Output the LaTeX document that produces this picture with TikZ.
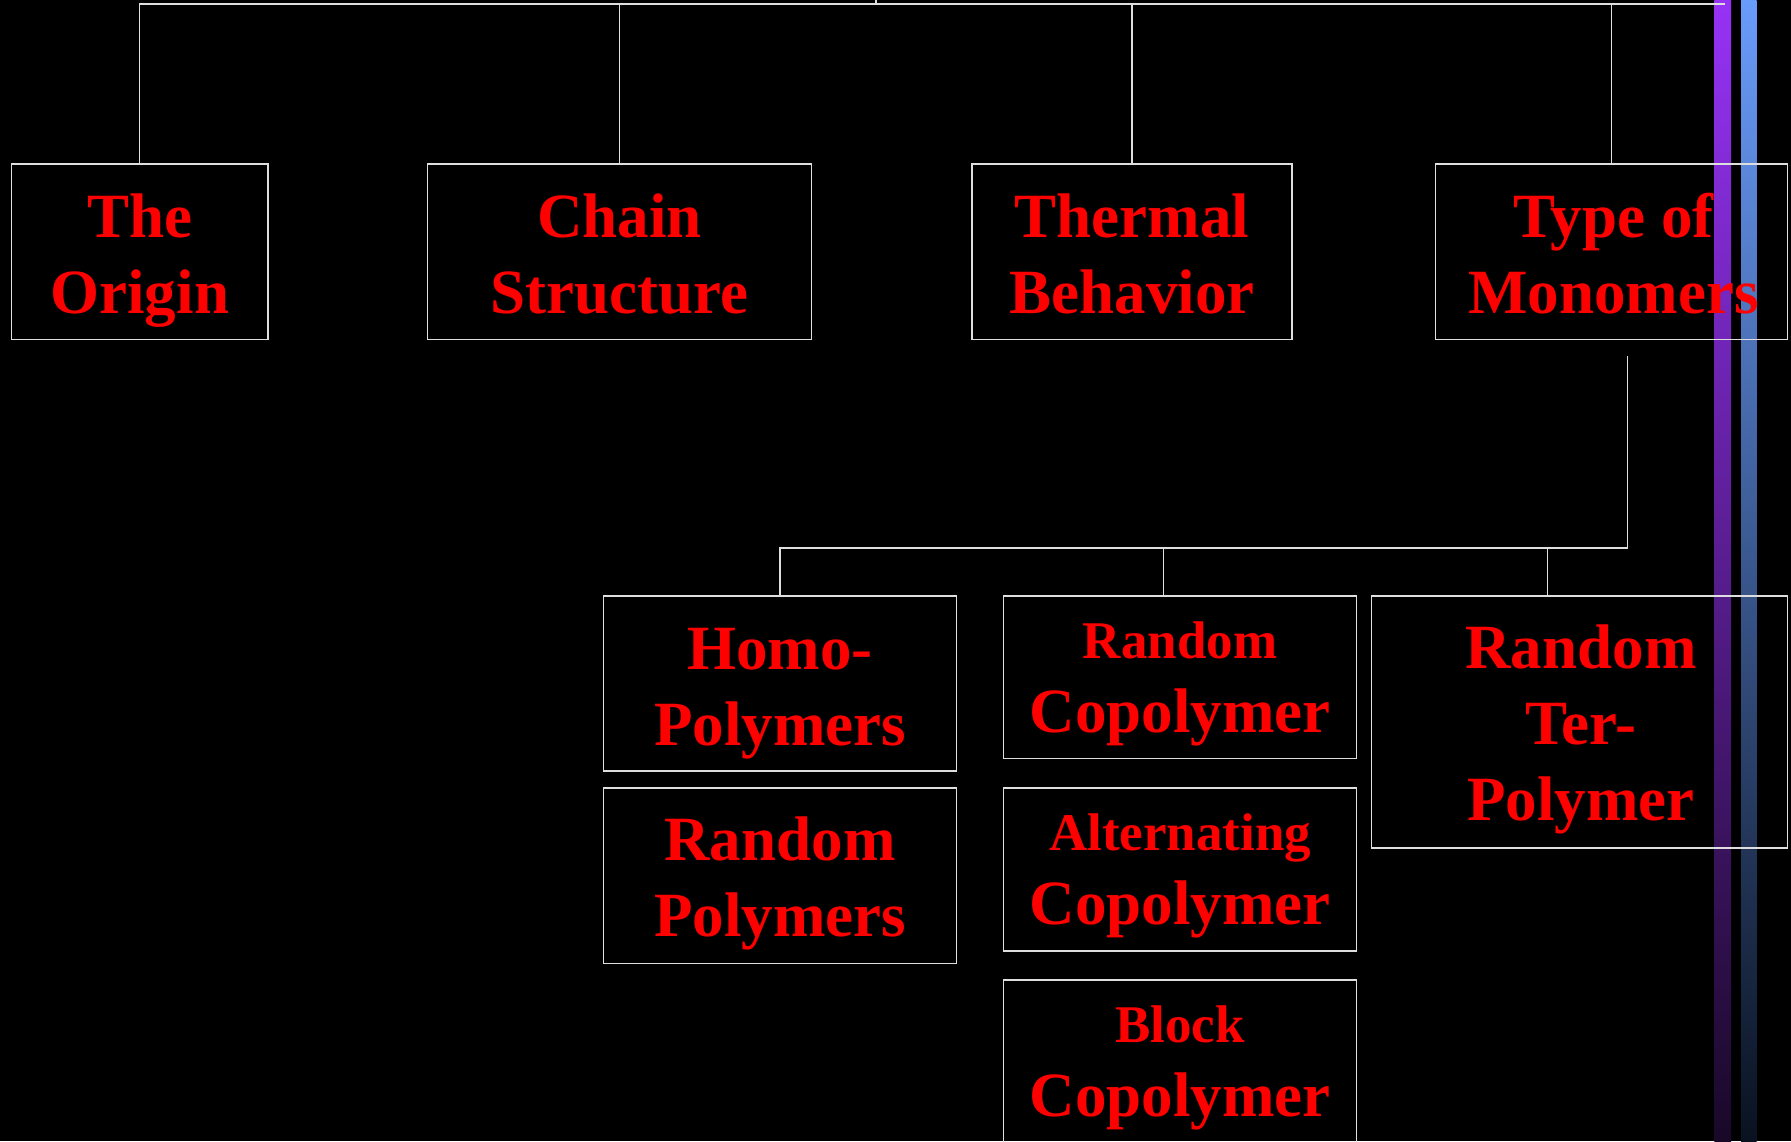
\documentclass[tikz,border=0pt]{standalone}
\usepackage{fontspec}
\setmainfont{Liberation Serif}
\definecolor{linegray}{RGB}{222,222,222}
\definecolor{txtred}{RGB}{255,0,0}
\definecolor{purpA}{RGB}{150,50,245}
\definecolor{purpB}{RGB}{115,35,180}
\definecolor{purpC}{RGB}{25,8,40}
\definecolor{bluA}{RGB}{105,155,250}
\definecolor{bluB}{RGB}{70,110,175}
\definecolor{bluC}{RGB}{10,18,32}
\newcommand\smallline[1]{{\fontsize{26.5}{38}\selectfont #1}}
\begin{document}
\begin{tikzpicture}[x=0.5pt,y=-0.5pt,
  conn/.style={draw=linegray,line width=0.65pt},
  box/.style={draw=linegray,line width=0.65pt,rectangle,inner sep=0pt,outer sep=0pt},
  lab/.style={text=txtred,font=\fontsize{31.5}{38}\selectfont\bfseries,inner sep=0pt,anchor=base}]
\useasboundingbox (0,0) rectangle (1791,1141);
\fill[black] (0,0) rectangle (1791,1141);
\clip (0,0) rectangle (1791,1141);
% stripes
\shade[top color=purpA,middle color=purpB,bottom color=purpC] (1714.3,0) rectangle (1731,1141);
\shade[top color=bluA,middle color=bluB,bottom color=bluC] (1741,0) rectangle (1756.7,1141);
% boxes
\node[box,minimum width=128.25pt,minimum height=87.65pt] (origin) at (139.75,251.65) {};
\node[box,minimum width=192pt,minimum height=87.65pt] (chain) at (619.7,251.65) {};
\node[box,minimum width=160pt,minimum height=87.65pt] (thermal) at (1132,251.65) {};
\node[box,minimum width=175.8pt,minimum height=87.65pt] (mono) at (1611.6,251.65) {};
\node[box,minimum width=176.5pt,minimum height=87.5pt] (homo) at (780,683.5) {};
\node[box,minimum width=176.5pt,minimum height=87.8pt] (randpoly) at (780,875.8) {};
\node[box,minimum width=176.5pt,minimum height=81.4pt] (randco) at (1180,677.4) {};
\node[box,minimum width=176.5pt,minimum height=81.5pt] (altco) at (1180,869.5) {};
\node[box,minimum width=176.5pt,minimum height=81.5pt] (block) at (1180,1061.5) {};
\node[box,minimum width=207.95pt,minimum height=126pt] (ter) at (1579.45,722) {};
% top connectors
\coordinate (root) at (876,4);
\coordinate (rootTop) at (876,0);
\coordinate (rootR) at (1725,4);
\draw[conn] (root) -- (rootTop);
\draw[conn] (origin.north) |- (rootR);
\draw[conn] (chain.north) -- (chain.north |- rootR);
\draw[conn] (thermal.north) -- (thermal.north |- rootR);
\draw[conn] (mono.north) -- (mono.north |- rootR);
% lower connectors
\coordinate (m1) at (1627.6,356);
\coordinate (m2) at (1627.6,548);
\coordinate (d2) at (1163.7,596);
\coordinate (d3) at (1547.7,596);
\draw[conn] (m1) -- (m2) -| (homo.north);
\draw[conn] (d2) -- (d2 |- m2);
\draw[conn] (d3) -- (d3 |- m2);
% texts
\node[lab] (originT) at (139.75,237.3) {\begin{tabular}[t]{@{}c@{}}The\\Origin\end{tabular}};
\node[lab] (chainT) at (619.7,237.3) {\begin{tabular}[t]{@{}c@{}}Chain\\Structure\end{tabular}};
\node[lab] (thermalT) at (1132,237.3) {\begin{tabular}[t]{@{}c@{}}Thermal\\Behavior\end{tabular}};
\node[lab] (monoT) at (1613.5,237.3) {\begin{tabular}[t]{@{}c@{}}Type of\\Monomers\end{tabular}};
\node[lab] (homoT) at (780,669.7) {\begin{tabular}[t]{@{}c@{}}Homo-\\Polymers\end{tabular}};
\node[lab] (randpolyT) at (780,860.6) {\begin{tabular}[t]{@{}c@{}}Random\\Polymers\end{tabular}};
\node[lab] (randcoT) at (1180,658.6) {\begin{tabular}[t]{@{}c@{}}\smallline{Random}\\[-1pt]Copolymer\end{tabular}};
\node[lab] (altcoT) at (1180,850) {\begin{tabular}[t]{@{}c@{}}\smallline{Alternating}\\[-1pt]Copolymer\end{tabular}};
\node[lab] (blockT) at (1180,1042) {\begin{tabular}[t]{@{}c@{}}\smallline{Block}\\[-1pt]Copolymer\end{tabular}};
\node[lab] (terT) at (1581,668) {\begin{tabular}[t]{@{}c@{}}Random\\Ter-\\Polymer\end{tabular}};
\end{tikzpicture}
\end{document}
